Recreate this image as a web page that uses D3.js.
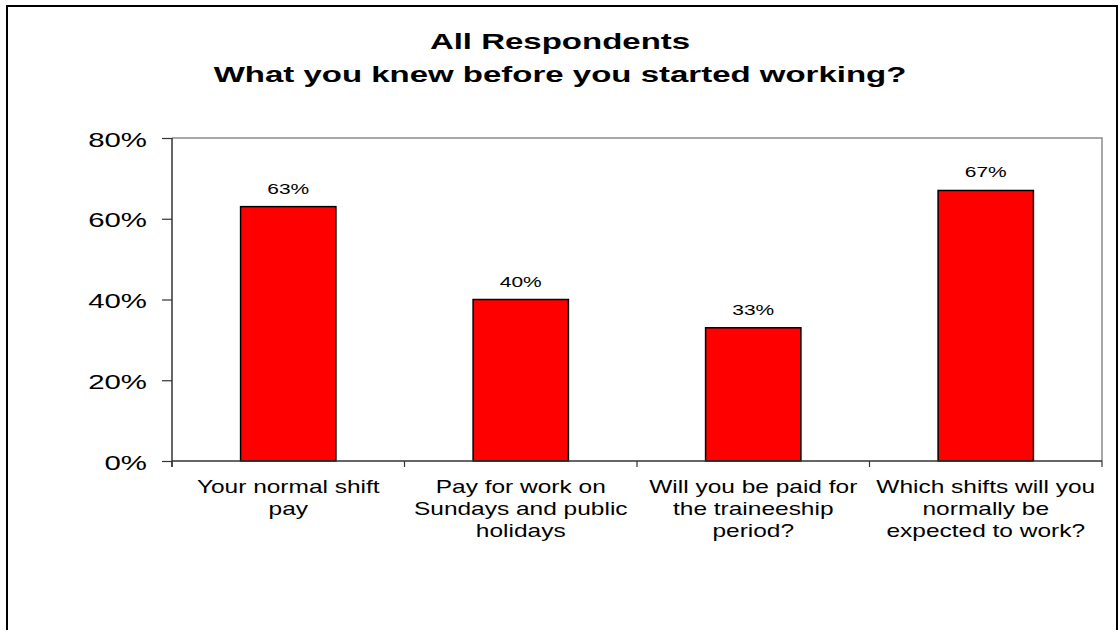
<!DOCTYPE html>
<html>
<head>
<meta charset="utf-8">
<script src="https://cdn.jsdelivr.net/npm/d3@7"></script>
<style>
  html, body { margin: 0; padding: 0; background: #fff; }
  svg { display: block; font-family: "Liberation Sans", Arial, sans-serif; }
</style>
</head>
<body>
<svg id="chart" width="1120" height="630"></svg>
<script>
const titleLines = ["All Respondents", "What you knew before you started working?"];
const categories = [
  "Your normal shift pay",
  "Pay for work on Sundays and public holidays",
  "Will you be paid for the traineeship period?",
  "Which shifts will you normally be expected to work?"
];
const categoryLines = [
  ["Your normal shift", "pay"],
  ["Pay for work on", "Sundays and public", "holidays"],
  ["Will you be paid for", "the traineeship", "period?"],
  ["Which shifts will you", "normally be", "expected to work?"]
];
const values = [0.63, 0.40, 0.33, 0.67];
const yTicks = [0, 0.2, 0.4, 0.6, 0.8];

const svg = d3.select("#chart");
const plot = { left: 172, right: 1102, top: 138, bottom: 461 };
const stretch = 1.4;

// outer frame
svg.append("rect")
  .attr("x", 7).attr("y", 6).attr("width", 1110).attr("height", 640)
  .attr("fill", "none").attr("stroke", "#000").attr("stroke-width", 2);

// title
const title = svg.append("g");
titleLines.forEach((t, i) => {
  title.append("text")
    .attr("transform", `translate(560,${49 + i * 33}) scale(1.5,1)`)
    .attr("text-anchor", "middle")
    .attr("font-weight", "bold")
    .attr("font-size", 22)
    .attr("fill", "#000")
    .text(t);
});

const x = d3.scaleBand().domain(categories).range([plot.left, plot.right])
  .paddingInner(0.59).paddingOuter(0.295);
const xBounds = d3.scaleBand().domain(categories).range([plot.left, plot.right]).padding(0);
const y = d3.scaleLinear().domain([0, 0.8]).range([plot.bottom, plot.top]);

// plot area border (top and right, grey)
svg.append("path")
  .attr("d", `M${plot.left},${plot.top}H${plot.right}V${plot.bottom}`)
  .attr("fill", "none").attr("stroke", "#8c8c8c").attr("stroke-width", 1.5);

// bars
svg.append("g").selectAll("rect").data(values).join("rect")
  .attr("x", (d, i) => x(categories[i]))
  .attr("y", d => y(d))
  .attr("width", x.bandwidth())
  .attr("height", d => y(0) - y(d))
  .attr("fill", "#ff0000")
  .attr("stroke", "#000").attr("stroke-width", 1.5);

// data labels
svg.append("g").selectAll("text").data(values).join("text")
  .attr("transform", (d, i) => `translate(${x(categories[i]) + x.bandwidth() / 2},${y(d) - 13}) scale(${stretch},1)`)
  .attr("text-anchor", "middle")
  .attr("font-size", 15)
  .attr("fill", "#000")
  .text(d => d3.format(".0%")(d));

// y axis
const yAxis = svg.append("g").attr("transform", `translate(${plot.left},0)`)
  .call(d3.axisLeft(y).tickValues(yTicks).tickFormat(d3.format(".0%")).tickSize(10).tickSizeOuter(0));
yAxis.select(".domain").attr("stroke", "#333").attr("stroke-width", 1.5)
  .attr("d", `M0,${plot.top}V${plot.bottom + 6}`);
yAxis.selectAll(".tick line").attr("stroke", "#333").attr("stroke-width", 1.2);
yAxis.selectAll(".tick text")
  .attr("x", null).attr("dy", null)
  .attr("transform", `translate(-25,8) scale(${stretch},1)`)
  .attr("font-size", 21)
  .attr("font-family", "Liberation Sans, Arial, sans-serif")
  .attr("fill", "#000");

// x axis
const xAxis = svg.append("g").attr("transform", `translate(0,${plot.bottom})`);
xAxis.append("line")
  .attr("x1", plot.left).attr("x2", plot.right)
  .attr("stroke", "#333").attr("stroke-width", 1.5);
const boundaries = categories.map(c => xBounds(c)).concat([plot.right]);
xAxis.selectAll(".bt").data(boundaries).join("line").attr("class", "bt")
  .attr("x1", d => d).attr("x2", d => d).attr("y1", 0).attr("y2", 6)
  .attr("stroke", "#333").attr("stroke-width", 1.2);

// category labels
const catG = svg.append("g");
categoryLines.forEach((lines, i) => {
  const cx = xBounds(categories[i]) + xBounds.bandwidth() / 2;
  lines.forEach((ln, j) => {
    catG.append("text")
      .attr("transform", `translate(${cx},${493 + j * 22}) scale(${stretch},1)`)
      .attr("text-anchor", "middle")
      .attr("font-size", 17.5)
      .attr("fill", "#000")
      .text(ln);
  });
});
</script>
</body>
</html>
